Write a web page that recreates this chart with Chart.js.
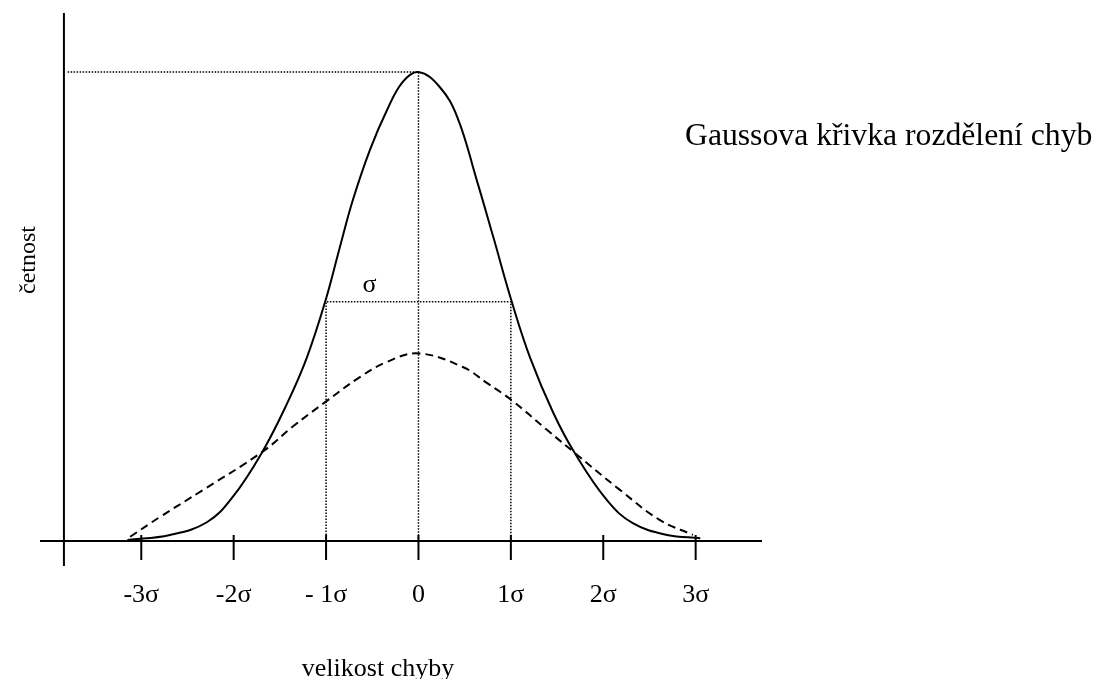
<!DOCTYPE html>
<html lang="cs">
<head>
    <meta charset="UTF-8">
    <title>Gaussova křivka rozdělení chyb</title>
    <script src="https://cdn.jsdelivr.net/npm/chart.js"></script>
    <style>
        body { margin: 0; background: #fff; }
        .wrap { width: 1096px; height: 679px; position: relative; }
    </style>
</head>
<body>
<div class="wrap">
    <canvas id="gauss"></canvas>
</div>

<script>
// x in units of sigma, y = relative frequency (peak of the narrow curve = 1)
const tickValues = [-3, -2, -1, 0, 1, 2, 3];
const tickLabels = ['-3σ', '-2σ', '- 1σ', '0', '1σ', '2σ', '3σ'];

// solid curve (small sigma)
const solidX = [-3.15, -2.69, -2.29, -2.01, -1.69, -1.42, -1.21, -1.01, -0.85, -0.71, -0.525, -0.34, -0.17, 0,
                0.23, 0.42, 0.63, 0.81, 1.01, 1.21, 1.46, 1.69, 2.04, 2.32, 2.69, 3.05];
const solidY = [0.002, 0.013, 0.04, 0.094, 0.19, 0.294, 0.39, 0.51, 0.627, 0.727, 0.834, 0.919, 0.979, 1.0,
                0.968, 0.904, 0.77, 0.648, 0.51, 0.39, 0.273, 0.188, 0.087, 0.038, 0.013, 0.006];

// dashed curve (large sigma)
const dashX = [-3.12, -2.8, -2.33, -1.69, -1.36, -1.01, -0.63, -0.34, 0, 0.48, 0.74, 1.01, 1.39, 1.69, 2.18, 2.61, 2.97];
const dashY = [0.009, 0.051, 0.109, 0.19, 0.244, 0.296, 0.35, 0.382, 0.40, 0.371, 0.337, 0.30, 0.237, 0.188, 0.109, 0.045, 0.013];

const peakValue = 1.0;     // dotted line to the y axis
const sigmaLevel = 0.51;   // height of the curve at +-1 sigma

// axis extents
const xMin = -4.096, xMax = 3.718;
const yMin = -0.0533, yMax = 1.1258;
const yAxisAt = -3.837;

function pts(xs, ys) {
    return xs.map((x, i) => ({ x: x, y: ys[i] }));
}

function lineSet(data, width, dash, tension) {
    return {
        data: data,
        showLine: true,
        borderColor: '#000',
        borderWidth: width,
        borderDash: dash || [],
        pointRadius: 0,
        tension: tension || 0,
        clip: false
    };
}

const datasets = [];

// axes
datasets.push(lineSet([{ x: xMin, y: 0 }, { x: xMax, y: 0 }], 2));
datasets.push(lineSet([{ x: yAxisAt, y: yMin }, { x: yAxisAt, y: yMax }], 2));
tickValues.forEach(v => {
    datasets.push(lineSet([{ x: v, y: 0.0128 }, { x: v, y: -0.0405 }], 2));
});

// dotted helper lines
datasets.push(lineSet([{ x: yAxisAt + 0.04, y: peakValue }, { x: 0, y: peakValue }, { x: 0, y: 0 }], 1.5, [1.5, 1.5]));
datasets.push(lineSet([{ x: -1, y: 0 }, { x: -1, y: sigmaLevel }, { x: 1, y: sigmaLevel }, { x: 1, y: 0 }], 1.5, [1.5, 1.5]));

// curves
datasets.push(lineSet(pts(solidX, solidY), 2, [], 0.4));
datasets.push(lineSet(pts(dashX, dashY), 2, [8, 5], 0.4));

const textPlugin = {
    id: 'texts',
    afterDraw(chart) {
        const ctx = chart.ctx;
        const xs = chart.scales.x, ys = chart.scales.y;
        const font = '"Liberation Serif", "Times New Roman", serif';
        ctx.save();
        ctx.fillStyle = '#000';
        ctx.textBaseline = 'alphabetic';

        ctx.font = '26px ' + font;
        ctx.textAlign = 'center';
        const base = ys.getPixelForValue(0) + 61;
        tickValues.forEach((v, i) => {
            ctx.fillText(tickLabels[i], xs.getPixelForValue(v), base);
        });

        // sigma above the half-width line
        ctx.fillText('σ', xs.getPixelForValue(-0.53), ys.getPixelForValue(sigmaLevel) - 10);

        ctx.fillText('velikost chyby', 378, 676);

        ctx.font = '31.7px ' + font;
        ctx.textAlign = 'left';
        ctx.fillText('Gaussova křivka rozdělení chyb', 685, 145);

        ctx.font = '24px ' + font;
        ctx.translate(35, 260);
        ctx.rotate(-Math.PI / 2);
        ctx.textAlign = 'center';
        ctx.fillText('četnost', 0, 0);
        ctx.restore();
    }
};

new Chart(document.getElementById('gauss'), {
    type: 'scatter',
    data: { datasets: datasets },
    options: {
        responsive: true,
        maintainAspectRatio: false,
        animation: false,
        layout: { padding: { left: 40, top: 13, right: 334, bottom: 113 } },
        plugins: { legend: { display: false }, tooltip: { enabled: false } },
        scales: {
            x: { type: 'linear', min: xMin, max: xMax, display: false },
            y: { type: 'linear', min: yMin, max: yMax, display: false }
        }
    },
    plugins: [textPlugin]
});
</script>
</body>
</html>
